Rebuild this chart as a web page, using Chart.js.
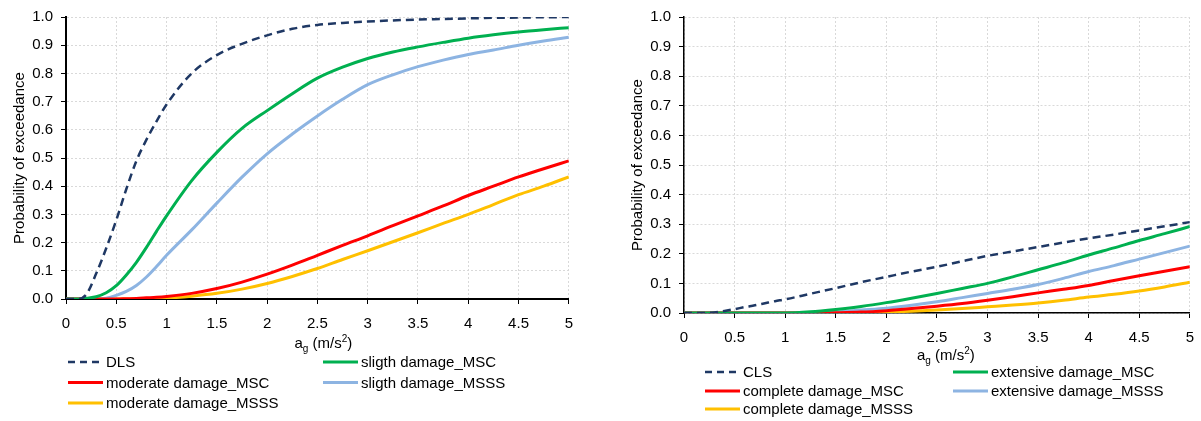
<!DOCTYPE html>
<html lang="en">
<head>
<meta charset="utf-8">
<title>Fragility curves</title>
<script src="https://cdn.jsdelivr.net/npm/chart.js"></script>
<style>
    html, body { margin: 0; padding: 0; background: #fff; }
    body { width: 1201px; height: 421px; position: relative; overflow: hidden; }
    .wrap { position: absolute; top: 0; height: 421px; }
    #wrapLeft { left: 0; width: 584px; }
    #wrapRight { left: 618px; width: 587px; }
</style>
</head>
<body>
<div class="wrap" id="wrapLeft"><canvas id="chartLeft"></canvas></div>
<div class="wrap" id="wrapRight"><canvas id="chartRight"></canvas></div>

<script>
// ag (m/s2) sample points
const ag = [0, 0.1, 0.2, 0.3, 0.4, 0.5, 0.6, 0.7, 0.8, 0.9, 1.0,
            1.25, 1.5, 1.75, 2.0, 2.25, 2.5, 2.75, 3.0, 3.25, 3.5, 3.75, 4.0, 4.25, 4.5, 4.75, 5.0];

// left chart
const dls = [0, 0, 0.015, 0.09, 0.18, 0.28, 0.39, 0.49, 0.565, 0.63, 0.69,
             0.80, 0.865, 0.905, 0.935, 0.958, 0.972, 0.979, 0.984, 0.988, 0.991, 0.993, 0.995, 0.997, 0.998, 0.999, 1.0];
const slightMSC = [0, 0, 0.002, 0.008, 0.022, 0.047, 0.085, 0.13, 0.183, 0.24, 0.295,
                   0.42, 0.52, 0.605, 0.668, 0.728, 0.783, 0.822, 0.853, 0.876, 0.894, 0.91, 0.925, 0.937, 0.947, 0.955, 0.962];
const moderateMSC = [0, 0, 0, 0, 0, 0, 0.001, 0.002, 0.004, 0.006, 0.009,
                     0.02, 0.037, 0.06, 0.088, 0.12, 0.155, 0.19, 0.224, 0.26, 0.295, 0.33, 0.367, 0.40, 0.433, 0.462, 0.49];
const slightMSSS = [0, 0, 0, 0, 0.003, 0.013, 0.027, 0.048, 0.078, 0.115, 0.155,
                    0.245, 0.34, 0.432, 0.515, 0.585, 0.649, 0.708, 0.76, 0.795, 0.824, 0.847, 0.867, 0.883, 0.90, 0.915, 0.928];
const moderateMSSS = [0, 0, 0, 0, 0, 0, 0, 0, 0.001, 0.002, 0.003,
                      0.01, 0.02, 0.035, 0.055, 0.08, 0.108, 0.14, 0.171, 0.203, 0.235, 0.268, 0.30, 0.335, 0.37, 0.40, 0.433];

// right chart
const cls = [0, 0, 0, 0.002, 0.007, 0.013, 0.02, 0.026, 0.033, 0.04, 0.046,
             0.065, 0.084, 0.104, 0.122, 0.14, 0.156, 0.175, 0.193, 0.208, 0.223, 0.238, 0.252, 0.265, 0.279, 0.293, 0.307];
const extensiveMSC = [0, 0, 0, 0, 0, 0, 0, 0, 0, 0, 0,
                      0.004, 0.012, 0.022, 0.035, 0.05, 0.066, 0.083, 0.10, 0.122, 0.146, 0.17, 0.196, 0.22, 0.245, 0.268, 0.292];
const completeMSC = [0, 0, 0, 0, 0, 0, 0, 0, 0, 0, 0,
                     0, 0.001, 0.003, 0.008, 0.015, 0.023, 0.032, 0.043, 0.055, 0.068, 0.08, 0.093, 0.11, 0.126, 0.141, 0.156];
const extensiveMSSS = [0, 0, 0, 0, 0, 0, 0, 0, 0, 0, 0,
                       0.001, 0.004, 0.01, 0.016, 0.026, 0.038, 0.052, 0.066, 0.08, 0.096, 0.117, 0.14, 0.16, 0.182, 0.204, 0.226];
const completeMSSS = [0, 0, 0, 0, 0, 0, 0, 0, 0, 0, 0,
                      0, 0, 0.001, 0.003, 0.006, 0.01, 0.015, 0.021, 0.027, 0.034, 0.043, 0.054, 0.063, 0.074, 0.088, 0.104];

const yTicks = [0, 0.1, 0.2, 0.3, 0.4, 0.5, 0.6, 0.7, 0.8, 0.9, 1.0];
const xTicks = [0, 0.5, 1, 1.5, 2, 2.5, 3, 3.5, 4, 4.5, 5];

const FONT = "'Liberation Sans', Arial, sans-serif";
Chart.defaults.font.family = FONT;
Chart.defaults.font.size = 15;
Chart.defaults.color = '#000';

function serie(label, values, color, dashed) {
    return {
        label: label,
        data: ag.map((x, i) => ({ x: x, y: values[i] })),
        borderColor: color,
        borderWidth: dashed ? 2.5 : 3,
        borderDash: dashed ? [8, 5] : [],
        pointRadius: 0,
        fill: false,
        cubicInterpolationMode: 'monotone'
    };
}

// x axis title with sub/superscript + 2-column legend drawn under the plot
const extras = {
    id: 'extras',
    afterDraw(chart, args, opts) {
        const ctx = chart.ctx;
        const a = chart.chartArea;
        ctx.save();
        ctx.fillStyle = '#000';
        ctx.textBaseline = 'alphabetic';
        ctx.textAlign = 'left';

        const big = '15px ' + FONT, small = '10px ' + FONT;
        const parts = [['a', big, 0], ['g', small, 4], [' (m/s', big, 0], ['2', small, -6], [')', big, 0]];
        let w = 0;
        parts.forEach(p => { ctx.font = p[1]; w += ctx.measureText(p[0]).width; });
        let x = a.left + a.width / 2 + opts.titleDx - w / 2;
        const by = a.bottom + opts.titleDy;
        parts.forEach(p => {
            ctx.font = p[1];
            ctx.fillText(p[0], x, by + p[2]);
            x += ctx.measureText(p[0]).width;
        });

        ctx.font = big;
        ctx.textBaseline = 'middle';
        chart.data.datasets.forEach((ds, i) => {
            const lx = a.left + opts.legendX[i % 2];
            const ly = a.bottom + opts.legendY[Math.floor(i / 2)];
            ctx.strokeStyle = ds.borderColor;
            ctx.lineWidth = ds.borderWidth;
            ctx.setLineDash(ds.borderDash.length ? [7, 5] : []);
            ctx.beginPath();
            ctx.moveTo(lx, ly);
            ctx.lineTo(lx + 35, ly);
            ctx.stroke();
            ctx.setLineDash([]);
            ctx.fillText(ds.label, lx + 38, ly + 1);
        });
        ctx.restore();
    }
};

function criarGrafico(id, datasets, pad, axisWidth, extraOpts) {
    const grid = { color: '#d9d9d9', tickColor: '#000', tickLength: 5, lineWidth: 1 };
    const border = { color: '#000', width: axisWidth, dash: [2, 2] };
    return new Chart(document.getElementById(id), {
        type: 'line',
        data: { datasets: datasets },
        plugins: [extras],
        options: {
            responsive: true,
            maintainAspectRatio: false,
            animation: false,
            layout: { padding: pad },
            plugins: {
                legend: { display: false },
                tooltip: { enabled: false },
                extras: extraOpts
            },
            scales: {
                x: {
                    type: 'linear', min: 0, max: 5,
                    afterBuildTicks: s => { s.ticks = xTicks.map(v => ({ value: v })); },
                    ticks: { padding: 11, maxRotation: 0, autoSkip: false, callback: v => String(v) },
                    grid: grid, border: border,
                    afterFit: s => { s.height = 30; }
                },
                y: {
                    min: 0, max: 1,
                    afterBuildTicks: s => { s.ticks = yTicks.map(v => ({ value: v })); },
                    ticks: { padding: 8, callback: v => v.toFixed(1) },
                    grid: grid, border: border,
                    title: { display: true, text: 'Probability of exceedance', padding: { top: 11, bottom: 0 } },
                    afterFit: s => { s.width = 66; }
                }
            }
        }
    });
}

criarGrafico('chartLeft', [
    serie('DLS', dls, '#1F3864', true),
    serie('sligth damage_MSC', slightMSC, '#00B050'),
    serie('moderate damage_MSC', moderateMSC, '#FF0000'),
    serie('sligth damage_MSSS', slightMSSS, '#8DB4E2'),
    serie('moderate damage_MSSS', moderateMSSS, '#FFC000')
], { top: 13, right: 8, bottom: 92, left: 0 }, 2,
   { titleDx: 6, titleDy: 49, legendX: [2, 257], legendY: [63, 83.5, 104] });

criarGrafico('chartRight', [
    serie('CLS', cls, '#1F3864', true),
    serie('extensive damage_MSC', extensiveMSC, '#00B050'),
    serie('complete damage_MSC', completeMSC, '#FF0000'),
    serie('extensive damage_MSSS', extensiveMSSS, '#8DB4E2'),
    serie('complete damage_MSSS', completeMSSS, '#FFC000')
], { top: 12, right: 8, bottom: 78, left: 0 }, 1.5,
   { titleDx: 9, titleDy: 47, legendX: [21, 269], legendY: [59, 78, 96] });
</script>
</body>
</html>
